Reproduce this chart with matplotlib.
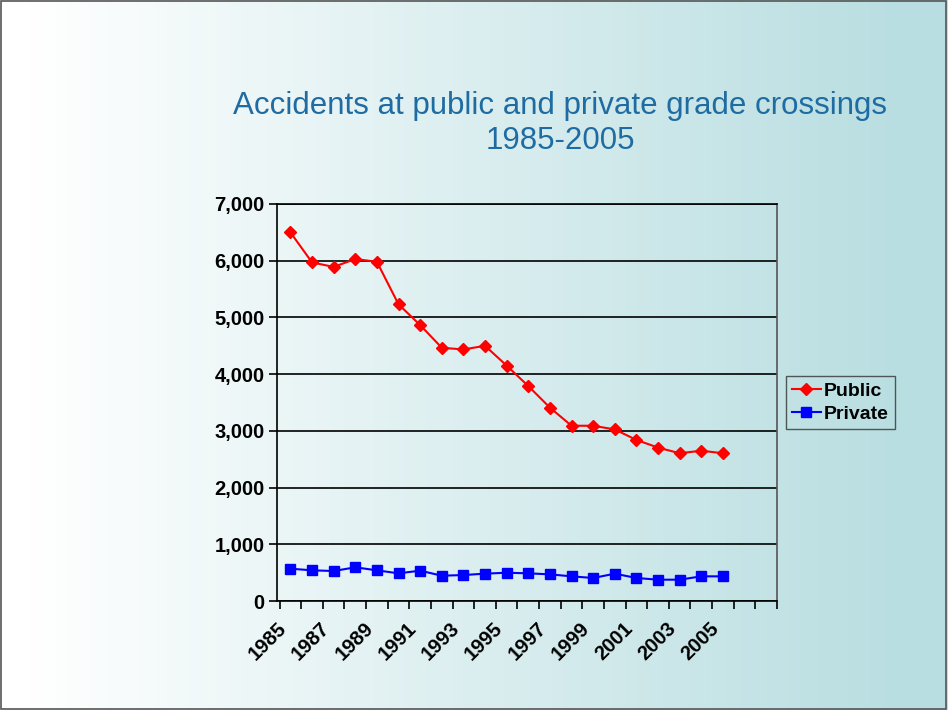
import matplotlib.pyplot as plt
import numpy as np

plt.rcParams['font.family'] = ['Liberation Sans', 'DejaVu Sans']

# 연도 / 사고 건수
years = list(range(1985, 2006))
public = [6500, 5970, 5890, 6030, 5980, 5230, 4865, 4465, 4435, 4500, 4150,
          3790, 3410, 3090, 3090, 3025, 2840, 2705, 2605, 2650, 2605]
private = [570, 541, 529, 594, 541, 488, 535, 446, 458, 482, 499,
           488, 470, 435, 406, 482, 406, 376, 376, 435, 435]
n_slots = 23  # 축에 빈 칸 두 개 더
tick_labels = [str(y) if (y - 1985) % 2 == 0 else '' for y in years]

fig = plt.figure(figsize=(9.48, 7.10), dpi=100)

# 배경 그라데이션 (흰색 -> 연한 청록)
bg = fig.add_axes([0, 0, 1, 1])
t = np.linspace(0, 1, 256)
t = np.clip((t - 0.03) / 0.92, 0, 1)
c0 = np.array([1.0, 1.0, 1.0])
c1 = np.array([0xB9, 0xDE, 0xE1]) / 255
grad = c0[None, :] * (1 - t[:, None]) + c1[None, :] * t[:, None]
bg.imshow(grad[None, :, :], aspect='auto', extent=[0, 1, 0, 1])
bg.set_xlim(0, 1)
bg.set_ylim(0, 1)
bg.axis('off')
fig.patches.append(plt.Rectangle((0.001, 0.001), 0.997, 0.997, transform=fig.transFigure,
                                 fill=False, edgecolor='#555555', linewidth=1.2))

fig.text(0.591, 0.826, 'Accidents at public and private grade crossings\n1985-2005',
         ha='center', va='center', fontsize=22.5, color='#1F6CA3', linespacing=1.2)

ax = fig.add_axes([0.2922, 0.1535, 0.5274, 0.5592])
ax.patch.set_alpha(0)
x = np.arange(len(years)) + 0.5
ax.plot(x, public, color='#FF0000', marker='D', markersize=6.5, linewidth=1.5, label='Public')
ax.plot(x, private, color='#0000FF', marker='s', markersize=7.5, linewidth=1.5, label='Private')

ax.set_xlim(0, n_slots)
ax.set_ylim(0, 7000)
ax.set_yticks(range(0, 7001, 1000))
ax.set_yticklabels([f'{v:,}' for v in range(0, 7001, 1000)], fontsize=14.5, fontweight='bold')
ax.set_xticks(np.arange(n_slots + 1))
ax.set_xticklabels([])
ax.set_xticks(x - 0.62, minor=True)
ax.set_xticklabels(tick_labels, minor=True, rotation=45, ha='right', va='top',
                   fontsize=14.5, fontweight='bold', rotation_mode='anchor')
ax.tick_params(axis='x', which='minor', length=0, pad=13)
ax.tick_params(axis='x', which='major', length=6, direction='out', width=1.2)
ax.tick_params(axis='y', length=6, direction='out', width=1.2, pad=3)
ax.yaxis.grid(True, color='black', linewidth=1.2)
ax.set_axisbelow(True)
for s in ['left', 'bottom', 'top']:
    ax.spines[s].set_color('black')
    ax.spines[s].set_linewidth(1.2)
ax.spines['right'].set_color('#555555')
ax.spines['right'].set_linewidth(1.2)

leg = ax.legend(loc='center left', bbox_to_anchor=(1.018, 0.5), frameon=True,
                fancybox=False, edgecolor='#333333', facecolor='none',
                prop={'weight': 'bold', 'size': 14}, handlelength=1.5,
                handletextpad=0.15, borderpad=0.3, labelspacing=0.3, borderaxespad=0)
leg.get_frame().set_linewidth(1.0)

fig.savefig('out.png', dpi=100)
